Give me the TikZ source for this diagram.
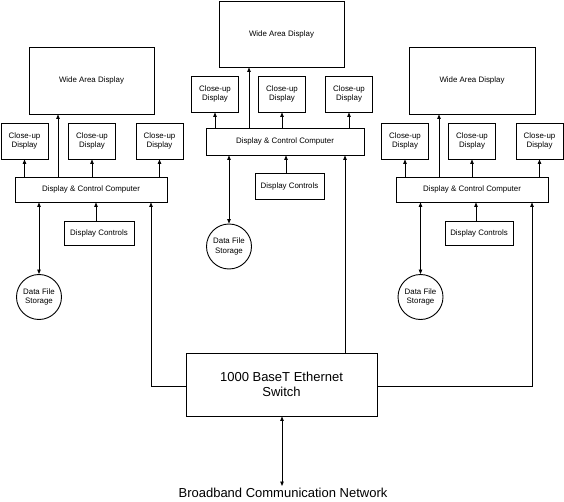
\documentclass[tikz,border=0pt]{standalone}
\usepackage{fontspec}
\setmainfont{Liberation Sans}
\usetikzlibrary{arrows.meta}
\begin{document}
\begin{tikzpicture}[x=1pt,y=-1pt,
  box/.style={draw,line width=0.9pt,inner sep=0pt,align=center,font=\fontsize{7.9}{9.3}\selectfont},
  store/.style={draw,circle,line width=0.9pt,inner sep=0pt,minimum size=45pt,align=center,font=\fontsize{7.9}{9.3}\selectfont},
  arr/.style={line width=0.9pt,-{Triangle[length=4.5pt,width=3.5pt]}},
  darr/.style={line width=0.9pt,{Triangle[length=4.5pt,width=3.5pt]}-{Triangle[length=4.5pt,width=3.5pt]}},
  cu/.style={box,minimum width=47pt,minimum height=36pt},
  wad/.style={box,minimum width=125pt,minimum height=67pt},
  comp/.style={box,minimum width=152pt,minimum height=25pt},
  ctrl/.style={box,minimum width=70pt,minimum height=24pt}]
\useasboundingbox (0,0) rectangle (564,502);
% ---------- left group ----------
\node[wad] (wadL) at (91.5,80.5) {Wide Area Display};
\node[cu] (cuL1) at (24.5,141) {Close-up\\Display};
\node[cu] (cuL2) at (92,141) {Close-up\\Display};
\node[cu] (cuL3) at (159.5,141) {Close-up\\Display};
\node[comp] (compL) at (91,189.5) {Display \& Control Computer};
\node[ctrl] (ctrlL) at (99,233) {Display Controls};
\node[store] (storL) at (39,297) {Data File\\Storage};
% ---------- middle group ----------
\node[wad,minimum height=66pt] (wadM) at (281.5,34) {Wide Area Display};
\node[cu] (cuM1) at (215,94) {Close-up\\Display};
\node[cu] (cuM2) at (282,94) {Close-up\\Display};
\node[cu] (cuM3) at (349,94) {Close-up\\Display};
\node[comp,minimum width=158pt,minimum height=27pt] (compM) at (285,141.5) {Display \& Control Computer};
\node[ctrl,minimum width=69pt,minimum height=26pt] (ctrlM) at (289.5,186) {Display Controls};
\node[store] (storM) at (229,246.5) {Data File\\Storage};
% ---------- right group ----------
\node[wad,minimum width=126pt] (wadR) at (472,80.5) {Wide Area Display};
\node[cu] (cuR1) at (405,141) {Close-up\\Display};
\node[cu] (cuR2) at (472,141) {Close-up\\Display};
\node[cu] (cuR3) at (539.5,141) {Close-up\\Display};
\node[comp] (compR) at (472,189.5) {Display \& Control Computer};
\node[ctrl,minimum width=68pt] (ctrlR) at (479,233) {Display Controls};
\node[store] (storR) at (420.5,297) {Data File\\Storage};
% ---------- switch ----------
\node[box,minimum width=191pt,minimum height=63pt,font=\fontsize{13}{15.7}\selectfont] (sw) at (281.5,384.5) {1000 BaseT Ethernet\\Switch};
\node[inner sep=0pt,font=\fontsize{13}{15}\selectfont] (net) at (283,493) {Broadband Communication Network};
\coordinate (swL) at (151,386);
\coordinate (swR) at (532,386);
\coordinate (netTop) at (282,486);
% ---------- connectors left ----------
\draw[arr] (compL.north -| 58,0) -- (wadL.south -| 58,0);
\draw[arr] (compL.north -| cuL1.south) -- (cuL1.south);
\draw[arr] (compL.north -| cuL2.south) -- (cuL2.south);
\draw[arr] (compL.north -| cuL3.south) -- (cuL3.south);
\draw[arr] (ctrlL.north -| 96,0) -- (compL.south -| 96,0);
\draw[darr] (compL.south -| storL.north) -- (storL.north);
% ---------- connectors middle ----------
\draw[arr] (compM.north -| 249,0) -- (wadM.south -| 249,0);
\draw[arr] (compM.north -| cuM1.south) -- (cuM1.south);
\draw[arr] (compM.north -| cuM2.south) -- (cuM2.south);
\draw[arr] (compM.north -| cuM3.south) -- (cuM3.south);
\draw[arr] (ctrlM.north -| 286,0) -- (compM.south -| 286,0);
\draw[darr] (compM.south -| storM.north) -- (storM.north);
% ---------- connectors right ----------
\draw[arr] (compR.north -| 439,0) -- (wadR.south -| 439,0);
\draw[arr] (compR.north -| cuR1.south) -- (cuR1.south);
\draw[arr] (compR.north -| cuR2.south) -- (cuR2.south);
\draw[arr] (compR.north -| cuR3.south) -- (cuR3.south);
\draw[arr] (ctrlR.north -| 476,0) -- (compR.south -| 476,0);
\draw[darr] (compR.south -| storR.north) -- (storR.north);
% ---------- switch connectors ----------
\draw[arr] (sw.west |- swL) -- (swL) -- (compL.south -| swL);
\draw[arr] (sw.north -| 345,0) -- (compM.south -| 345,0);
\draw[arr] (sw.east |- swR) -- (swR) -- (compR.south -| swR);
\draw[darr] (sw.south -| netTop) -- (netTop);
\end{tikzpicture}
\end{document}
